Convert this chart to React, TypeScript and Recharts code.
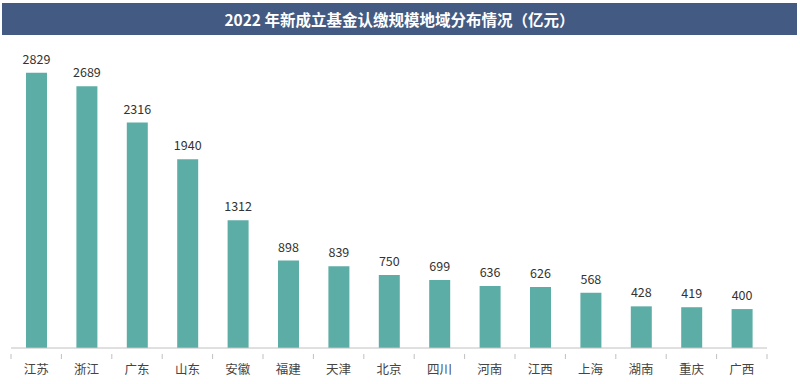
import { Bar, BarChart, LabelList, XAxis, YAxis } from "recharts";

const regions = ["江苏", "浙江", "广东", "山东", "安徽", "福建", "天津", "北京", "四川", "河南", "江西", "上海", "湖南", "重庆", "广西"];
const amounts = [2829, 2689, 2316, 1940, 1312, 898, 839, 750, 699, 636, 626, 568, 428, 419, 400];

const data = regions.map((name, i) => ({ name, value: amounts[i] }));

const FONT = '"Noto Sans CJK SC", "Noto Sans", sans-serif';
const BAND = (800 - 11 - 33) / regions.length;

function RegionTick(props: any) {
  const { x, y, payload, index } = props;
  const last = index === regions.length - 1;
  return (
    <g>
      <line x1={x - BAND / 2} x2={x - BAND / 2} y1={y - 2} y2={y + 3} stroke="#c0c0c0" />
      {last && <line x1={x + BAND / 2} x2={x + BAND / 2} y1={y - 2} y2={y + 3} stroke="#c0c0c0" />}
      <text x={x} y={y + 18} textAnchor="middle" fill="#444" fontSize={12.5} fontFamily={FONT}>
        {payload.value}
      </text>
    </g>
  );
}

export default function App() {
  return (
    <div style={{ position: "fixed", left: 0, top: 0, width: 800, height: 384, background: "#fff" }}>
      <div
        style={{
          position: "absolute",
          left: 2,
          top: 3,
          width: 795,
          height: 32,
          background: "#435a82",
          color: "#fff",
          fontFamily: FONT,
          fontWeight: 700,
          fontSize: 15.5,
          lineHeight: "32px",
          textAlign: "center",
        }}
      >
        2022 年新成立基金认缴规模地域分布情况（亿元）
      </div>
      <BarChart
        width={800}
        height={384}
        data={data}
        margin={{ top: 56, right: 33, left: 11, bottom: 6 }}
        barCategoryGap={0}
      >
        <XAxis
          dataKey="name"
          height={30}
          interval={0}
          axisLine={{ stroke: "#c0c0c0" }}
          tickLine={false}
          tick={<RegionTick />}
        />
        <YAxis hide domain={[0, 3000]} />
        <Bar dataKey="value" fill="#5dada7" barSize={21} isAnimationActive={false}>
          <LabelList dataKey="value" position="top" offset={9} fill="#333" fontSize={12.5} fontFamily={FONT} />
        </Bar>
      </BarChart>
    </div>
  );
}
